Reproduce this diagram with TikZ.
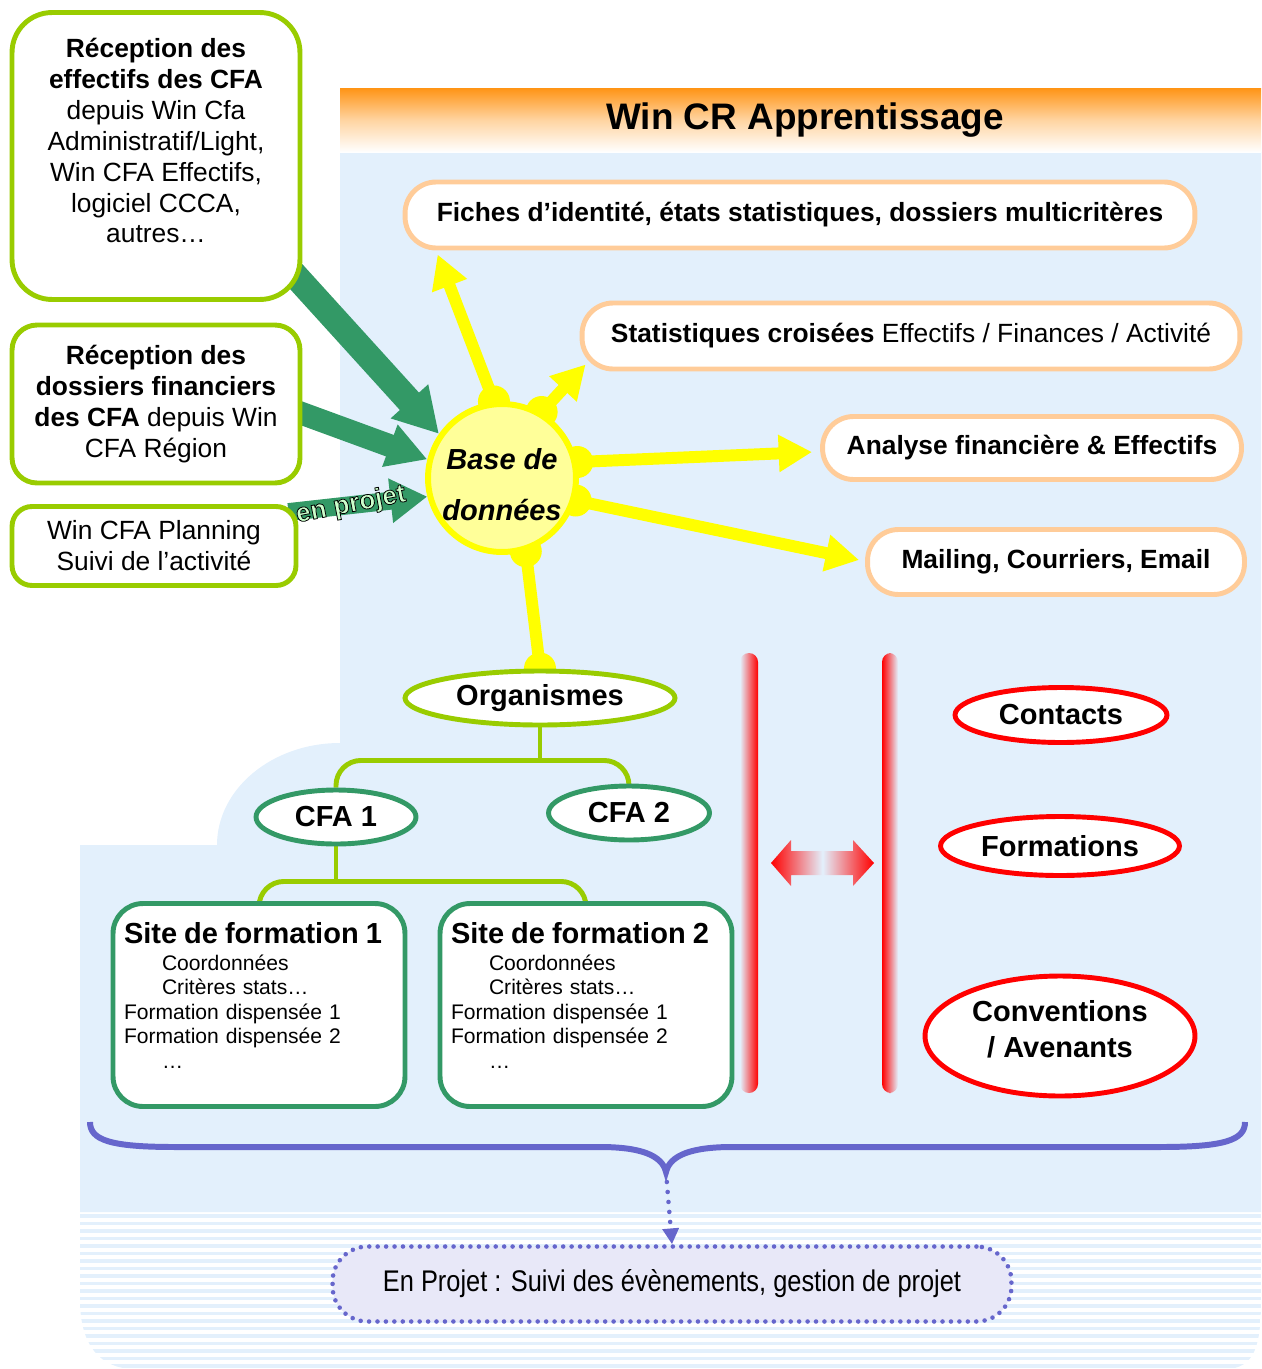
\documentclass[tikz,border=0pt]{standalone}
\usepackage{fontspec}
\setmainfont{Liberation Sans}
\newfontfamily\etroit[FakeStretch=0.85]{Liberation Sans}
\usetikzlibrary{shapes.geometric,arrows.meta,calc}
\definecolor{vertclair}{HTML}{99CC00}
\definecolor{vertfonce}{HTML}{339966}
\definecolor{vertpale}{HTML}{CCFFCC}
\definecolor{fondbleu}{HTML}{E3F0FC}
\definecolor{orangepale}{HTML}{FFCC99}
\definecolor{orangevif}{HTML}{FF9415}
\definecolor{jaune}{HTML}{FFFF00}
\definecolor{jaunepale}{HTML}{FFFF99}
\definecolor{mauve}{HTML}{6666CC}
\definecolor{lavande}{HTML}{E8E8F8}
\pgfdeclarelayer{fond}
\pgfdeclarelayer{liens}
\pgfsetlayers{fond,liens,main}
\begin{document}
\begin{tikzpicture}[x=0.02cm,y=-0.02cm]
		\tikzstyle{boite}=[draw=vertclair, line width=2.8pt, fill=white, rounded corners=0.5cm, align=center, font=\fontsize{15}{17.6}\selectfont]
		\tikzstyle{sortie}=[draw=orangepale, line width=2.8pt, fill=white, rounded corners=0.62cm, inner sep=0pt, font=\bfseries\fontsize{15}{18}\selectfont]
		\tikzstyle{ovale}=[ellipse, line width=2.8pt, fill=white, inner sep=0pt, font=\bfseries\fontsize{16.5}{20}\selectfont]
		\tikzstyle{rouge}=[ovale, draw=red]
		\tikzstyle{site}=[draw=vertfonce, line width=2.8pt, fill=white, rounded corners=0.6cm, minimum width=5.84cm, minimum height=4.06cm, text width=5.4cm, align=left, font=\fontsize{12}{13.9}\selectfont]
		\tikzstyle{fleche_verte}=[vertfonce]
		\tikzstyle{fleche_jaune}=[jaune, line width=6.8pt, -{Triangle[width=20pt,length=19pt]}]
		\tikzstyle{branche}=[vertclair, line width=2.8pt, rounded corners=0.5cm]
		\useasboundingbox (0,0) rectangle (1261,1369);
		% fond
		\begin{pgfonlayer}{fond}
		\fill[fondbleu] (340,152) -- (1261,152) -- (1261,1212) -- (80,1212) -- (80,845) -- (217,845) .. controls (217,789) and (272,743) .. (340,743) -- cycle;
		\shade[top color=orangevif, bottom color=white, middle color=orangevif!40!white] (340,88) rectangle (1261,152);
		\begin{scope}
		\clip (80,1212) -- (80,1300) .. controls (80,1345) and (100,1369) .. (135,1369) -- (1225,1369) .. controls (1255,1369) and (1261,1345) .. (1261,1300) -- (1261,1212) -- cycle;
		\foreach \y in {1214,1221.5,...,1369} \fill[fondbleu] (80,\y) rectangle (1261,\y+3.5);
		\end{scope}
		\end{pgfonlayer}
		\node (titre) at (805,120) {\bfseries\fontsize{21}{25}\selectfont Win CR Apprentissage};
		% sources
		\node[boite, rounded corners=0.8cm, minimum width=5.76cm, minimum height=5.74cm] (effectifs) at (156,156) {\textbf{Réception des}\\ \textbf{effectifs des CFA}\\ depuis Win Cfa\\ Administratif/Light,\\ Win CFA Effectifs,\\ logiciel CCCA,\\ autres…\\ ~};
		\node[boite, minimum width=5.76cm, minimum height=3.16cm] (financiers) at (156,404) {\textbf{Réception des}\\ \textbf{dossiers financiers}\\ \textbf{des CFA} depuis Win\\ CFA Région};
		\node[boite, rounded corners=0.4cm, minimum width=5.68cm, minimum height=1.58cm] (planning) at (154,546) {Win CFA Planning\\ Suivi de l’activité};
		% base
		\node[circle, draw=jaune, line width=3.4pt, fill=jaunepale, minimum size=2.96cm, inner sep=0pt, align=center, font=\bfseries\itshape\fontsize{16.5}{29}\selectfont] (base) at (502,478) {\\[-9pt]Base de\\ données};
		% sorties
		\node[sortie, minimum width=15.8cm, minimum height=1.32cm] (fiches) at (800,215) {Fiches d’identité, états statistiques, dossiers multicritères};
		\node[sortie, minimum width=13.16cm, minimum height=1.32cm] (croisees) at (911,336) {Statistiques croisées \mdseries Effectifs / Finances / Activité};
		\node[sortie, minimum width=8.38cm, minimum height=1.26cm] (analyse) at (1032,448) {Analyse financière \& Effectifs};
		\node[sortie, minimum width=7.54cm, minimum height=1.3cm] (mailing) at (1056,562) {Mailing, Courriers, Email};
		% arbre
		\node[ovale, draw=vertclair, minimum width=5.4cm, minimum height=1.08cm] (organismes) at (540,698) {Organismes};
		\node[ovale, draw=vertfonce, minimum width=3.2cm, minimum height=1.08cm] (cfa1) at (336,817) {CFA 1};
		\node[ovale, draw=vertfonce, minimum width=3.22cm, minimum height=1.08cm] (cfa2) at (629,813) {CFA 2};
		\node[site] (site1) at (259,1005) {{\bfseries\fontsize{16.5}{19}\selectfont Site de formation 1}\\[1.4pt]
			\hspace*{0.76cm}Coordonnées\\
			\hspace*{0.76cm}Critères stats…\\
			Formation dispensée 1\\
			Formation dispensée 2\\
			\hspace*{0.76cm}…\\[-3pt]
			\mbox{}};
		\node[site] (site2) at (586,1005) {{\bfseries\fontsize{16.5}{19}\selectfont Site de formation 2}\\[1.4pt]
			\hspace*{0.76cm}Coordonnées\\
			\hspace*{0.76cm}Critères stats…\\
			Formation dispensée 1\\
			Formation dispensée 2\\
			\hspace*{0.76cm}…\\[-3pt]
			\mbox{}};
		% droite
		\node[rouge, minimum width=4.24cm, minimum height=1.1cm] (contacts) at (1061,715) {Contacts};
		\node[rouge, minimum width=4.78cm, minimum height=1.18cm] (formations) at (1060,846) {Formations};
		\node[rouge, minimum width=5.4cm, minimum height=2.4cm, align=center] (conventions) at (1060,1036) {Conventions\\ / Avenants\\[-12pt]~};
		\shade[left color=fondbleu, right color=red, rounded corners=0.18cm] (740,653) rectangle (758,1093);
		\shade[left color=red, right color=fondbleu, rounded corners=0.18cm] (882,653) rectangle (898,1093);
		\shade[left color=red, right color=red, middle color=fondbleu] (771,863) -- (791,840) -- (791,851) -- (853,851) -- (853,840) -- (874,863) -- (853,886) -- (853,875) -- (791,875) -- (791,886) -- cycle;
		% bas
		\draw[mauve, line width=3.4pt] (90,1122) .. controls (90,1140) and (110,1147) .. (175,1147) -- (600,1147) .. controls (640,1147) and (662,1155) .. (666,1172) coordinate (accolade) .. controls (670,1155) and (692,1147) .. (732,1147) -- (1160,1147) .. controls (1225,1147) and (1245,1140) .. (1245,1122);
		\node[draw=mauve, fill=lavande, line width=2.6pt, dash pattern=on 0pt off 4.8pt, line cap=round, rounded corners=0.7cm, minimum width=13.58cm, minimum height=1.5cm, font=\etroit\fontsize{17}{20}\selectfont] (projet) at (672,1284) {En Projet : Suivi des évènements, gestion de projet};
		% liens
		\begin{pgfonlayer}{liens}
		\draw[fleche_verte, line width=14.7pt, -{Triangle[width=27pt,length=25pt]}] ($(effectifs.south east)+(-15,-35)$) -- (base.145);
		\draw[fleche_verte, line width=13pt, -{Triangle[width=24pt,length=22.7pt]}] ($(financiers.east)+(-10,6)$) -- (base.166);
		\draw[fleche_verte, line width=10.2pt, -{Triangle[width=24pt,length=21pt]}] ($(planning.north east)+(-10,8)$) -- (base.194) coordinate[pos=0.45] (enprojet);
		\draw[fleche_jaune] (base.96) -- ($(fiches.south west)+(35,4)$);
		\draw[fleche_jaune] (base.59) -- ($(croisees.south west)+(6,-7)$);
		\draw[fleche_jaune] (base.12) -- ($(analyse.west)+(-8,4)$);
		\draw[fleche_jaune] (base.-17) -- ($(mailing.west)+(-6,-2)$);
		\draw[jaune, line width=6.8pt] (base.-72) -- (organismes.north);
		\foreach \a in {96,59,12,-17,-72} \fill[jaune] (base.\a) circle (0.32cm);
		\fill[jaune] (organismes.north) circle (0.32cm);
		\draw[branche, rounded corners=0pt] (organismes.south) -- ++(0,33) coordinate (noeud1);
		\draw[branche] (noeud1) -| (cfa1.north);
		\draw[branche] (noeud1) -| (cfa2.north);
		\draw[branche, rounded corners=0pt] (cfa1.south) -- ++(0,35) coordinate (noeud2);
		\draw[branche] (noeud2) -| (site1.north);
		\draw[branche] (noeud2) -| (site2.north);
		\draw[mauve, line width=2.6pt, dash pattern=on 0pt off 5.7pt, line cap=round, -{Triangle[width=9pt,length=9pt]}] (accolade) -- (projet.north);
		\end{pgfonlayer}
		% en projet, lettres contournees
		\node[rotate=11, font=\bfseries\fontsize{15}{17}\selectfont, text=vertpale] (etiquette) at (enprojet) {\special{pdf:literal direct 2 Tr 0.45 w 0 0 0 RG}en projet\special{pdf:literal direct 0 Tr}};
	\end{tikzpicture}
\end{document}
